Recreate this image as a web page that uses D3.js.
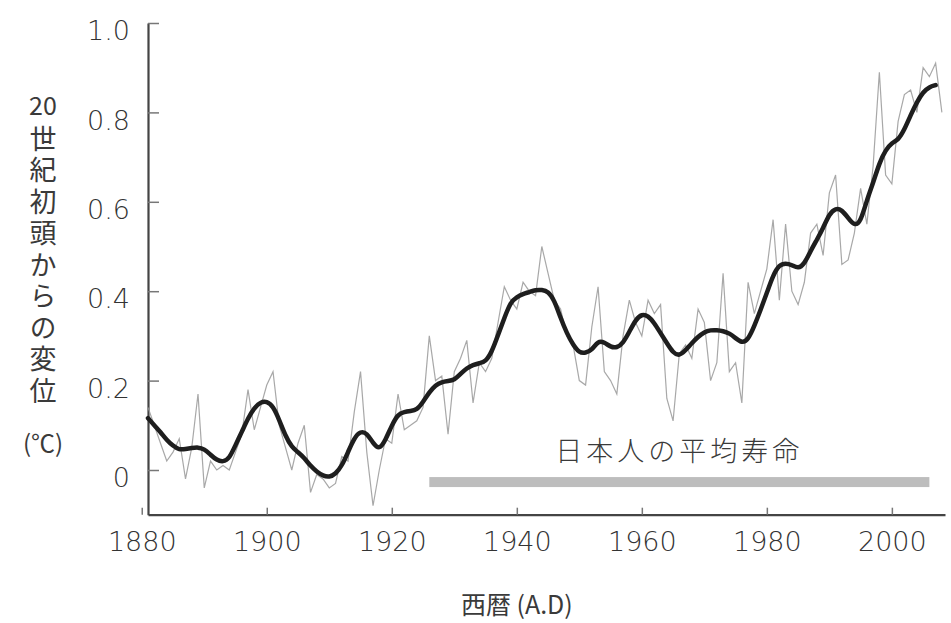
<!DOCTYPE html>
<html>
<head>
<meta charset="utf-8">
<script src="https://cdn.jsdelivr.net/npm/d3@7"></script>
<style>
	html, body { margin: 0; padding: 0; background: #fff; }
	svg { display: block; }
</style>
</head>
<body>
<div id="chart"></div>
<script>
// annual values (thin line)
var years = d3.range(1881, 2009);
var annual = [
	0.14, 0.10, 0.06, 0.02, 0.04, 0.07, -0.02, 0.05, 0.17, -0.04,
	0.02, 0.00, 0.01, 0.00, 0.04, 0.08, 0.18, 0.09, 0.14, 0.19,
	0.22, 0.10, 0.05, 0.00, 0.06, 0.10, -0.05, -0.01, -0.02, -0.04,
	-0.03, 0.03, 0.02, 0.13, 0.22, 0.04, -0.08, 0.00, 0.07, 0.06,
	0.17, 0.09, 0.10, 0.11, 0.14, 0.30, 0.20, 0.21, 0.08, 0.22,
	0.25, 0.29, 0.15, 0.24, 0.22, 0.25, 0.33, 0.41, 0.38, 0.36,
	0.42, 0.40, 0.39, 0.50, 0.44, 0.38, 0.36, 0.30, 0.28, 0.20,
	0.19, 0.32, 0.41, 0.22, 0.20, 0.17, 0.30, 0.38, 0.33, 0.30,
	0.38, 0.35, 0.37, 0.16, 0.11, 0.26, 0.28, 0.25, 0.36, 0.33,
	0.20, 0.24, 0.44, 0.22, 0.24, 0.15, 0.42, 0.35, 0.40, 0.45,
	0.56, 0.38, 0.55, 0.40, 0.37, 0.42, 0.53, 0.55, 0.48, 0.62,
	0.66, 0.46, 0.47, 0.53, 0.63, 0.55, 0.68, 0.89, 0.66, 0.64,
	0.78, 0.84, 0.85, 0.80, 0.90, 0.88, 0.91, 0.80
];

// smoothed values (thick line)
var smoothYears = d3.range(1881, 2008);
var smooth = [
	0.116, 0.100, 0.085, 0.067, 0.054, 0.045, 0.047, 0.049, 0.051, 0.047,
	0.034, 0.022, 0.018, 0.025, 0.056, 0.085, 0.116, 0.139, 0.152, 0.154,
	0.143, 0.112, 0.076, 0.051, 0.040, 0.027, 0.009, -0.004, -0.013, -0.016,
	-0.009, 0.009, 0.040, 0.072, 0.087, 0.083, 0.060, 0.045, 0.067, 0.100,
	0.125, 0.130, 0.132, 0.134, 0.152, 0.174, 0.190, 0.197, 0.199, 0.201,
	0.215, 0.228, 0.235, 0.239, 0.242, 0.264, 0.302, 0.340, 0.376, 0.387,
	0.394, 0.398, 0.403, 0.403, 0.400, 0.380, 0.340, 0.306, 0.280, 0.262,
	0.262, 0.268, 0.289, 0.286, 0.275, 0.273, 0.284, 0.309, 0.336, 0.349,
	0.345, 0.329, 0.306, 0.284, 0.262, 0.255, 0.268, 0.284, 0.298, 0.309,
	0.313, 0.313, 0.311, 0.306, 0.295, 0.284, 0.291, 0.322, 0.358, 0.396,
	0.436, 0.459, 0.463, 0.459, 0.450, 0.461, 0.490, 0.515, 0.541, 0.573,
	0.586, 0.582, 0.564, 0.546, 0.555, 0.604, 0.642, 0.687, 0.716, 0.732,
	0.738, 0.761, 0.794, 0.823, 0.846, 0.857, 0.861
];

var xTicks = [1880, 1900, 1920, 1940, 1960, 1980, 2000];
var yTicks = [0, 0.2, 0.4, 0.6, 0.8, 1.0];
var yTickLabels = ["0", "0.2", "0.4", "0.6", "0.8", "1.0"];

// Japanese average life span band
var lifeSpan = [1926, 2006];
var lifeLabel = "日本人の平均寿命";

var yTitleTop = "20";
var yTitle = "世紀初頭からの変位";
var yTitleUnit = "(℃)";
var xTitle = "西暦 (A.D)";

var width = 951;
var height = 623;

var svg = d3.select("#chart").append("svg")
	.attr("width", width)
	.attr("height", height);

var x = d3.scaleLinear().domain([1881, 2008.5]).range([148, 945]);
var y = d3.scaleLinear().domain([-0.1, 1.0]).range([514.7, 23]);

// axes
var xAxis = svg.append("g")
	.attr("transform", "translate(0," + y(-0.1) + ")")
	.call(d3.axisBottom(x)
		.tickValues(xTicks)
		.tickFormat(d3.format("d"))
		.tickSize(-7)
		.tickSizeOuter(0)
		.tickPadding(17));

var yAxis = svg.append("g")
	.attr("transform", "translate(" + x(1881) + ",0)")
	.call(d3.axisLeft(y)
		.tickValues(yTicks)
		.tickFormat(function(d, i) { return yTickLabels[i]; })
		.tickSize(-11)
		.tickSizeOuter(0)
		.tickPadding(18));

[xAxis, yAxis].forEach(function(g) {
	g.select(".domain").attr("stroke", "#444").attr("stroke-width", 2.2);
	g.selectAll(".tick line").attr("stroke", "#777").attr("stroke-width", 1.5);
	g.selectAll(".tick text")
		.attr("fill", "#333")
		.style("font-family", "'DejaVu Sans', sans-serif")
		.style("font-weight", 200)
		.style("font-size", "27px");
});
yAxis.selectAll(".tick text").attr("dy", "0.62em");

// life span band
svg.append("rect")
	.attr("x", x(lifeSpan[0]))
	.attr("width", x(lifeSpan[1]) - x(lifeSpan[0]))
	.attr("y", y(-0.027) - 5)
	.attr("height", 10)
	.attr("fill", "#bdbdbd");

svg.append("text")
	.attr("x", (x(lifeSpan[0]) + x(lifeSpan[1])) / 2)
	.attr("y", 461)
	.attr("text-anchor", "middle")
	.attr("fill", "#3a3a3a")
	.style("font-family", "'Noto Sans CJK JP', sans-serif")
	.style("font-weight", 300)
	.style("font-size", "27px")
	.style("letter-spacing", "4px")
	.text(lifeLabel);

// annual line
var annualLine = d3.line()
	.x(function(d, i) { return x(years[i]); })
	.y(function(d) { return y(d); });

svg.append("path")
	.datum(annual)
	.attr("d", annualLine)
	.attr("fill", "none")
	.attr("stroke", "#999")
	.attr("stroke-width", 1.2)
	.attr("stroke-opacity", 0.85);

// smoothed line
var smoothLine = d3.line()
	.curve(d3.curveBasis)
	.x(function(d, i) { return x(smoothYears[i]); })
	.y(function(d) { return y(d); });

svg.append("path")
	.datum(smooth)
	.attr("d", smoothLine)
	.attr("fill", "none")
	.attr("stroke", "#1e1e1e")
	.attr("stroke-width", 4.5)
	.attr("stroke-linejoin", "round")
	.attr("stroke-linecap", "round");

// y title: "20" on top, vertical text, unit at the bottom
var cjk = "'Noto Sans CJK JP', sans-serif";

svg.append("text")
	.attr("x", 43)
	.attr("y", 115)
	.attr("text-anchor", "middle")
	.attr("fill", "#3a3a3a")
	.style("font-family", cjk)
	.style("font-size", "25px")
	.text(yTitleTop);

svg.append("text")
	.attr("x", 43)
	.attr("y", 125)
	.attr("fill", "#3a3a3a")
	.style("font-family", cjk)
	.style("font-size", "27px")
	.style("writing-mode", "vertical-rl")
	.style("text-orientation", "upright")
	.style("letter-spacing", "4.5px")
	.text(yTitle);

svg.append("text")
	.attr("x", 43)
	.attr("y", 452)
	.attr("text-anchor", "middle")
	.attr("fill", "#3a3a3a")
	.style("font-family", cjk)
	.style("font-size", "24px")
	.text(yTitleUnit);

// x title
svg.append("text")
	.attr("x", x(1940))
	.attr("y", 614)
	.attr("text-anchor", "middle")
	.attr("fill", "#3a3a3a")
	.style("font-family", cjk)
	.style("font-size", "25px")
	.text(xTitle);
</script>
</body>
</html>
